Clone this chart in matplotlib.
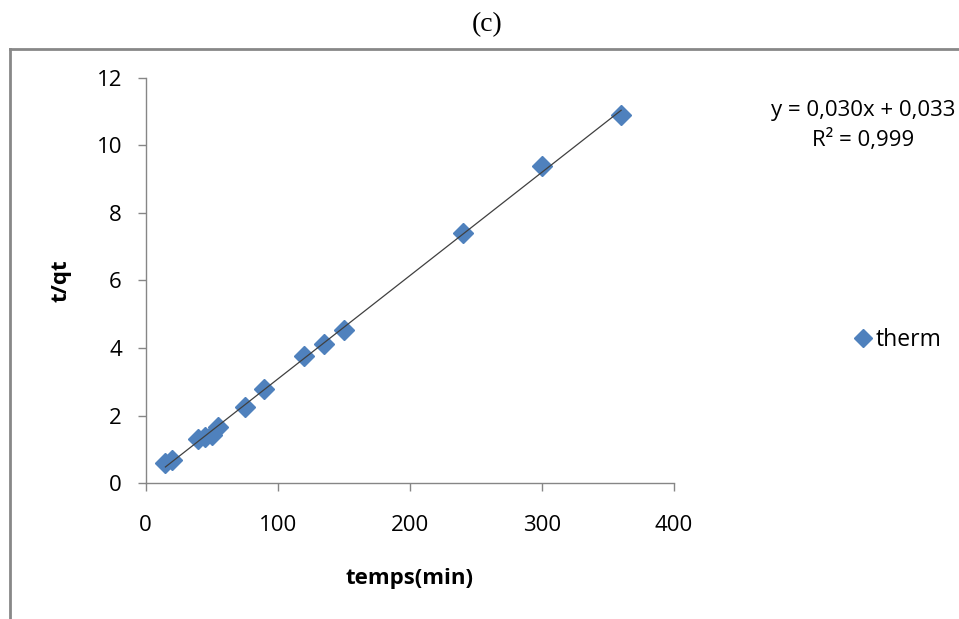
import numpy as np
import matplotlib.pyplot as plt
from matplotlib.lines import Line2D

temps = [15, 20, 40, 45, 50, 55, 75, 90, 120, 135, 150, 240, 300, 360]
t_qt = [0.58, 0.68, 1.30, 1.35, 1.42, 1.65, 2.25, 2.80, 3.75, 4.12, 4.52, 7.42, 9.40, 10.90]

eq_text = "y = 0,030x + 0,033\nR² = 0,999"

font = ['Open Sans', 'DejaVu Sans']
plt.rcParams['font.family'] = font

fig = plt.figure(figsize=(9.59, 6.19), dpi=100)
ax = fig.add_axes([0.1518, 0.2197, 0.5510, 0.6543])

# trend line
a, b = np.polyfit(temps, t_qt, 1)
xl = np.array([min(temps), max(temps)])
ax.plot(xl, a * xl + b, color='#404040', lw=0.9, zorder=3)

ax.plot(temps, t_qt, 'D', color='#4F81BD', ms=10.5, mec='#4F81BD', lw=0,
        label='therm', zorder=2)

ax.set_xlim(0, 400)
ax.set_ylim(0, 12)
ax.set_xticks(range(0, 401, 100))
ax.set_yticks(range(0, 13, 2))
for s in ['top', 'right']:
    ax.spines[s].set_visible(False)
for s in ['left', 'bottom']:
    ax.spines[s].set_color('#868686')
    ax.spines[s].set_linewidth(1.0)
ax.tick_params(axis='both', colors='#868686', labelcolor='black', labelsize=16,
               length=6, width=1.0)
ax.tick_params(axis='x', pad=17)
ax.tick_params(axis='y', pad=11)

ax.set_xlabel('temps(min)', fontsize=16, fontweight='bold', labelpad=23)
ax.set_ylabel('t/qt', fontsize=16, fontweight='bold', labelpad=18)

fig.text(0.508, 0.96, '(c)', fontsize=20, family='Liberation Serif',
         ha='center', va='center')
fig.text(0.9, 0.797, eq_text, fontsize=16, ha='center', va='center',
         multialignment='center', linespacing=1.5)

leg = ax.legend(loc='center left', bbox_to_anchor=(0.888, 0.451),
                bbox_transform=fig.transFigure, frameon=False, fontsize=16.5,
                handletextpad=0.05, markerscale=0.9, handlelength=1.0,
                borderpad=0, borderaxespad=0)

# outer frame
fx = 10 / 959
fy = 1 - 49 / 619
fig.add_artist(Line2D([fx, fx], [0, fy], transform=fig.transFigure,
                      color='#888888', lw=2))
fig.add_artist(Line2D([fx, 1], [fy, fy], transform=fig.transFigure,
                      color='#888888', lw=2))

fig.savefig('out.png', dpi=100)
